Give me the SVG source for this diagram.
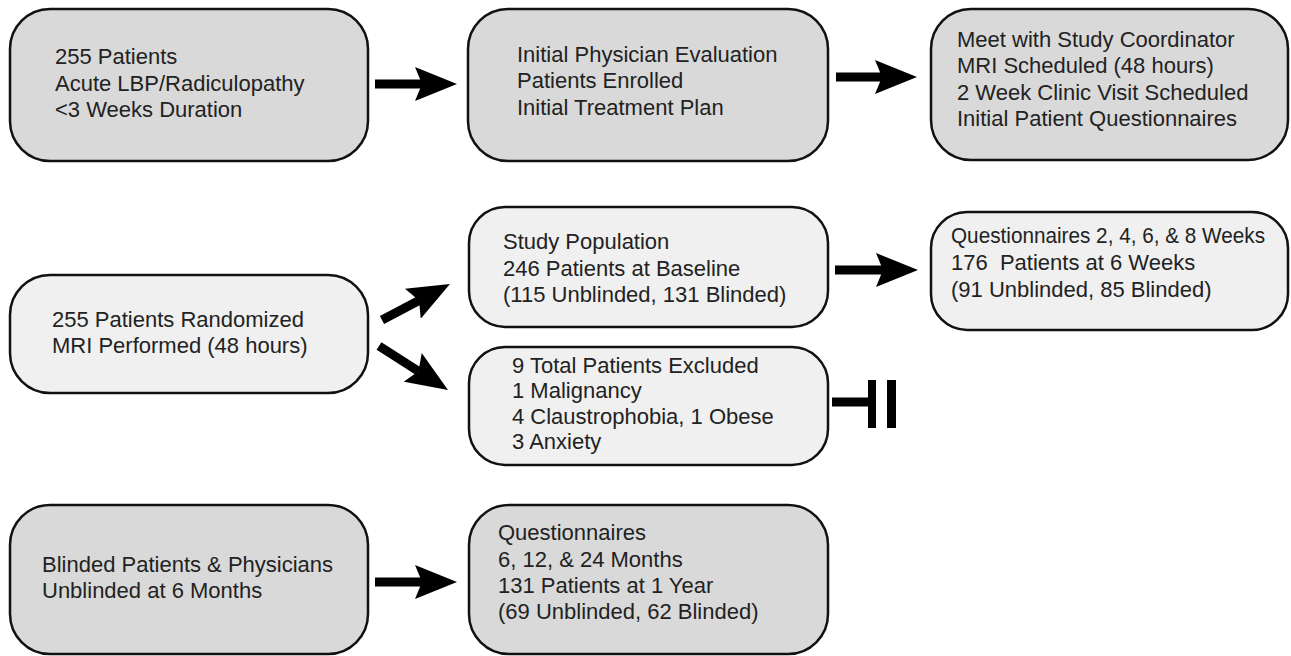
<svg xmlns="http://www.w3.org/2000/svg" width="1291" height="656" viewBox="0 0 1291 656">
<style>
.dark{fill:#d9d9d9;stroke:#111;stroke-width:2.5}
.light{fill:#f0f0f0;stroke:#111;stroke-width:2.5}
text{font-family:"Liberation Sans",Arial,sans-serif;font-size:22px;fill:#222;white-space:pre}
.shaft{stroke:#000;stroke-width:9;fill:none}
</style>
<defs>
<marker id="ah" viewBox="0 0 42 34" refX="7" refY="17" markerWidth="42" markerHeight="34" markerUnits="userSpaceOnUse" orient="auto">
<path d="M0,0 L42,17 L0,34 L7,17 Z" fill="#000"/>
</marker>
</defs>
<rect width="1291" height="656" fill="#fff"/>
<g id="n1">
<rect class="dark" x="10" y="9" width="358" height="152" rx="40"/>
<text x="55" y="64">255 Patients</text>
<text x="55" y="91">Acute LBP/Radiculopathy</text>
<text x="55" y="117">&lt;3 Weeks Duration</text>
</g>
<g id="n2">
<rect class="dark" x="468" y="9" width="360" height="152" rx="40"/>
<text x="517" y="62">Initial Physician Evaluation</text>
<text x="517" y="88">Patients Enrolled</text>
<text x="517" y="115">Initial Treatment Plan</text>
</g>
<g id="n3">
<rect class="dark" x="931" y="9" width="357" height="151" rx="40"/>
<text x="957" y="47">Meet with Study Coordinator</text>
<text x="957" y="73">MRI Scheduled (48 hours)</text>
<text x="957" y="100">2 Week Clinic Visit Scheduled</text>
<text x="957" y="126">Initial Patient Questionnaires</text>
</g>
<g id="n4">
<rect class="light" x="10" y="275" width="358" height="118" rx="40"/>
<text x="52" y="327">255 Patients Randomized</text>
<text x="52" y="353">MRI Performed (48 hours)</text>
</g>
<g id="n5">
<rect class="light" x="469" y="207" width="359" height="120" rx="36"/>
<text x="503" y="249">Study Population</text>
<text x="503" y="276">246 Patients at Baseline</text>
<text x="503" y="302">(115 Unblinded, 131 Blinded)</text>
</g>
<g id="n6">
<rect class="light" x="469" y="347" width="359" height="118" rx="36"/>
<text x="512" y="373">9 Total Patients Excluded</text>
<text x="512" y="398">1 Malignancy</text>
<text x="512" y="424">4 Claustrophobia, 1 Obese</text>
<text x="512" y="449">3 Anxiety</text>
</g>
<g id="n7">
<rect class="light" x="931" y="212" width="357" height="118" rx="36"/>
<text x="951" y="243" textLength="314" lengthAdjust="spacingAndGlyphs">Questionnaires 2, 4, 6, &amp; 8 Weeks</text>
<text x="951" y="270">176  Patients at 6 Weeks</text>
<text x="951" y="297">(91 Unblinded, 85 Blinded)</text>
</g>
<g id="n8">
<rect class="dark" x="10" y="505" width="358" height="149" rx="40"/>
<text x="42" y="572">Blinded Patients &amp; Physicians</text>
<text x="42" y="598">Unblinded at 6 Months</text>
</g>
<g id="n9">
<rect class="dark" x="469" y="505" width="359" height="149" rx="40"/>
<text x="498" y="540">Questionnaires</text>
<text x="498" y="567">6, 12, &amp; 24 Months</text>
<text x="498" y="593">131 Patients at 1 Year</text>
<text x="498" y="619">(69 Unblinded, 62 Blinded)</text>
</g>
<g id="connectors">
<path class="shaft" d="M375,84 L422,84" marker-end="url(#ah)"/>
<path class="shaft" d="M836,77 L882,77" marker-end="url(#ah)"/>
<path class="shaft" d="M382,320 L419,300.4" marker-end="url(#ah)"/>
<path class="shaft" d="M379,346 L418.5,371.2" marker-end="url(#ah)"/>
<path class="shaft" d="M835,270 L883,270" marker-end="url(#ah)"/>
<path class="shaft" d="M375,582 L422,582" marker-end="url(#ah)"/>
<path class="shaft" d="M832,402 L872,402"/>
<rect x="868" y="380" width="8" height="48" fill="#000"/>
<rect x="887" y="380" width="9" height="48" fill="#000"/>
</g>
</svg>
